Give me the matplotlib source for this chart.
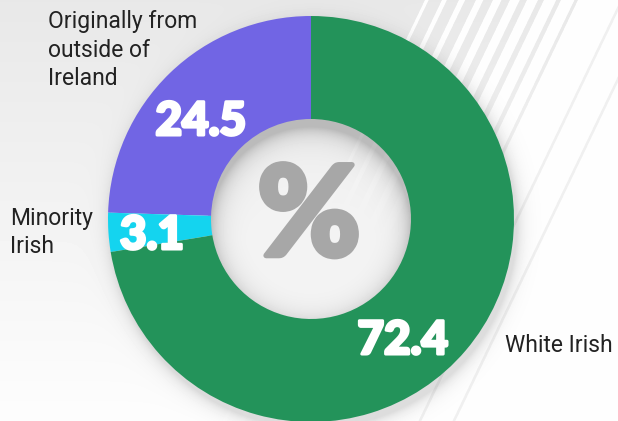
import numpy as np
import matplotlib
matplotlib.use('Agg')
import matplotlib.pyplot as plt
import matplotlib.patheffects as pe

W, H = 618, 421

# shares of the population, %
categories = ['Originally from\noutside of\nIreland', 'Minority\nIrish', 'White Irish']
values = [24.5, 3.1, 72.4]
colors = ['#7165E4', '#14D4EF', '#23935A']

# donut geometry in pixels (y measured from the top)
cx, cy = 311, 219
r_out, r_in = 203, 100


def background():
    # rendered at 3x and averaged down so the stripes come out smooth
    k = 3
    yy, xx = (np.mgrid[0:H * k, 0:W * k] + 0.5) / k
    base = 232 + 21 * yy / H

    # diagonal light stripes towards the upper right
    u = xx + 0.48 * yy
    t = (u - 425) / 165
    phase = ((u - 425) % 17) / 17
    white = ((t >= 0) & (t <= 1) & (phase < 0.2 + 0.65 * t)) | (t > 1)
    img = np.where(white, 254.0, base)
    for u0 in (622, 656):
        img = np.where(np.abs(u - u0) < 1.5, 240.0, img)

    # soft drop shadow under the ring
    d_real = np.hypot(xx - cx, yy - cy)
    d_sh = np.hypot(xx - (cx + 3), yy - (cy + 6))
    s_out = 0.13 * np.exp(-np.clip(d_sh - r_out, 0, None) / 7)
    img = np.where(d_real > r_out - 3, img * (1 - s_out), img)

    # inner shadow inside the hole
    d_in = np.hypot(xx - cx, yy - (cy + 8))
    s_in = 0.22 * np.exp(-np.clip(r_in - d_in, 0, None) / 10)
    img = np.where(d_real < r_in + 3, np.minimum(img, 244) * (1 - s_in), img)

    return img.reshape(H, k, W, k).mean(axis=(1, 3))


fig = plt.figure(figsize=(W / 100, H / 100), dpi=100)
ax = fig.add_axes([0, 0, 1, 1])

ax.imshow(background(), cmap='gray', vmin=0, vmax=255,
          extent=(0, W, 0, H), interpolation='bilinear', zorder=0)

ax.pie(values, colors=colors, startangle=90, counterclock=True,
       radius=r_out, center=(cx, H - cy),
       wedgeprops=dict(width=r_out - r_in, linewidth=0, antialiased=True))

ax.set_xlim(0, W)
ax.set_ylim(0, H)
ax.set_aspect('auto')
ax.axis('off')

# big centre sign
ax.text(cx - 2, H - cy, '%', ha='center', va='center', fontsize=90,
        fontweight='black', family='Lato', color='#a7a7a7', zorder=5,
        path_effects=[pe.withStroke(linewidth=4, foreground='#a7a7a7')])

# value labels: (x centre, baseline) in pixels
value_pos = [(201, 135), (152, 249), (403, 354)]
for v, (x, y) in zip(values, value_pos):
    ax.text(x, H - y, f'{v:.1f}', ha='center', va='baseline', fontsize=33,
            fontweight='black', family='Lato', color='white', zorder=6,
            path_effects=[pe.withStroke(linewidth=2.2, foreground='white')])

# category labels: (left x, baseline of last line) in pixels
label_pos = [(48, 85), (10, 253), (505, 352)]
for c, (x, y) in zip(categories, label_pos):
    ax.text(x, H - y, c, ha='left', va='baseline', fontsize=16.5,
            family='Roboto', color='#222222', linespacing=1.3, zorder=6)

fig.savefig('out.png', dpi=100)
